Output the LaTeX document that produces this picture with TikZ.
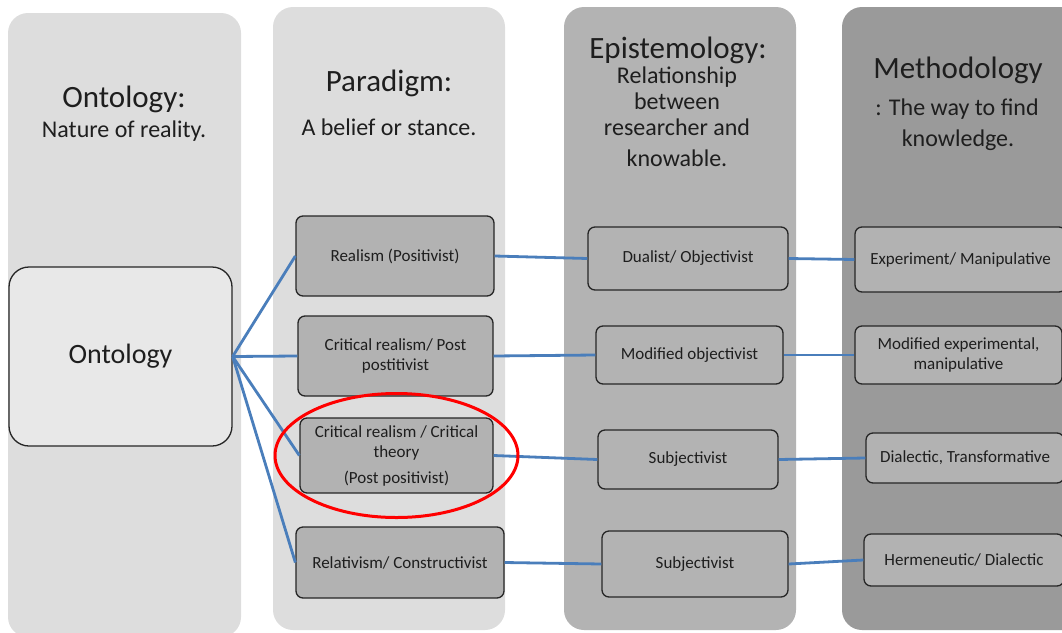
\documentclass[tikz,border=0pt]{standalone}
\usepackage{fontspec}
\setmainfont{Carlito}
\usepackage{tikz}
\definecolor{fondoclaro}{HTML}{DDDDDD}
\definecolor{fondomedio}{HTML}{B3B3B3}
\definecolor{fondooscuro}{HTML}{9A9A9A}
\definecolor{cajaclara}{HTML}{E8E8E8}
\definecolor{cajagris}{HTML}{B2B2B2}
\definecolor{azul}{HTML}{4A7EBB}
\definecolor{texto}{HTML}{1E1E1E}
\tikzstyle{columna} = [rounded corners=20pt]
\tikzstyle{caja} = [draw=black!85, line width=1.3pt, rectangle, rounded corners=7pt, inner sep=0pt, align=center, text=texto, font=\fontsize{17}{20}\selectfont]
\tikzstyle{titulo} = [anchor=base, inner sep=0pt, text=texto, font=\fontsize{31}{36}\selectfont]
\tikzstyle{subtitulo} = [anchor=base, inner sep=0pt, text=texto, font=\fontsize{24}{28}\selectfont]
\tikzstyle{enlace} = [draw=azul, line width=2.8pt]
\tikzstyle{marca} = [draw=red, line width=3pt]

\begin{document}
\begin{tikzpicture}[x=1pt, y=-1pt]
	\useasboundingbox (0,0) rectangle (1062,632);
	\clip (0,0) rectangle (1062,632);
	\fill[fondoclaro, columna] (8,13) rectangle (241,637);
	\fill[fondoclaro, columna] (273,7) rectangle (505,630);
	\fill[fondomedio, columna] (564,7) rectangle (796,630);
	\fill[fondooscuro, columna] (842,7) rectangle (1085,630);

	\node[titulo] (tontologia) at (124,107) {Ontology:};
	\node[subtitulo] (sontologia) at (124,137) {Nature of reality.};
	\node[titulo] (tparadigma) at (389,91) {Paradigm:};
	\node[subtitulo] (sparadigma) at (389,135) {A belief or stance.};
	\node[titulo] (tepistemo) at (678,58) {Epistemology:};
	\node[subtitulo, font=\fontsize{24}{28}\selectfont] (sepistemo1) at (677,83) {Relationship};
	\node[subtitulo, font=\fontsize{24}{28}\selectfont] (sepistemo2) at (677,109) {between};
	\node[subtitulo, font=\fontsize{24}{28}\selectfont] (sepistemo3) at (677,135) {researcher and};
	\node[subtitulo, font=\fontsize{24}{28}\selectfont] (sepistemo4) at (677,166) {knowable.};
	\node[titulo] (tmetodo) at (958,78) {Methodology};
	\node[subtitulo, font=\fontsize{24}{28}\selectfont] (smetodo1) at (957,115) {: The way to find};
	\node[subtitulo, font=\fontsize{24}{28}\selectfont] (smetodo2) at (958,146) {knowledge.};

	\node[caja, fill=cajaclara, rounded corners=20pt, minimum width=223pt, minimum height=179pt, font=\fontsize{28}{32}\selectfont] (ontologia) at (120.5,356.5) {Ontology};

	\node[caja, fill=cajagris, minimum width=198pt, minimum height=80pt] (realismo) at (395,256) {Realism (Positivist)};
	\node[caja, fill=cajagris, minimum width=195pt, minimum height=80pt] (critico) at (395.5,356) {Critical realism/ Post\\postitivist};
	\node[caja, fill=cajagris, minimum width=193pt, minimum height=75pt] (teoria) at (396.5,455.5) {Critical realism / Critical\\theory\\[6pt](Post positivist)};
	\node[caja, fill=cajagris, minimum width=208pt, minimum height=71pt] (relativismo) at (400,562.5) {Relativism/ Constructivist};

	\node[caja, fill=fondomedio, minimum width=200pt, minimum height=63pt] (dualista) at (688,258.5) {Dualist/ Objectivist};
	\node[caja, fill=fondomedio, minimum width=187pt, minimum height=58pt] (objetivista) at (689.5,355) {Modified objectivist};
	\node[caja, fill=fondomedio, minimum width=180pt, minimum height=59pt] (subjetivista) at (688,459.5) {Subjectivist};
	\node[caja, fill=fondomedio, minimum width=186pt, minimum height=66pt] (subjetivista2) at (695,564) {Subjectivist};

	\node[caja, fill=cajagris, minimum width=211pt, minimum height=65pt] (experimento) at (960.5,259.5) {Experiment/ Manipulative};
	\node[caja, fill=cajagris, minimum width=207pt, minimum height=58pt] (modificado) at (958.5,355) {Modified experimental,\\manipulative};
	\node[caja, fill=cajagris, minimum width=198pt, minimum height=50pt] (dialectico) at (965,458) {Dialectic, Transformative};
	\node[caja, fill=cajagris, minimum width=200pt, minimum height=52pt] (hermeneutico) at (964,560) {Hermeneutic/ Dialectic};

	\draw[enlace] (ontologia.east) -- (realismo.west);
	\draw[enlace] (ontologia.east) -- (critico.west);
	\draw[enlace] (ontologia.east) -- (teoria.west);
	\draw[enlace] (ontologia.east) -- (relativismo.west);
	\draw[enlace] (realismo.east) -- (dualista.west);
	\draw[enlace] (critico.east) -- (objetivista.west);
	\draw[enlace] (teoria.east) -- (subjetivista.west);
	\draw[enlace] (relativismo.east) -- (subjetivista2.west);
	\draw[enlace] (dualista.east) -- (experimento.west);
	\draw[enlace] (objetivista.east) -- (modificado.west);
	\draw[enlace] (subjetivista.east) -- (dialectico.west);
	\draw[enlace] (subjetivista2.east) -- (hermeneutico.west);

	\draw[marca] (teoria.center) ellipse [x radius=121.5, y radius=62];
\end{tikzpicture}
\end{document}
